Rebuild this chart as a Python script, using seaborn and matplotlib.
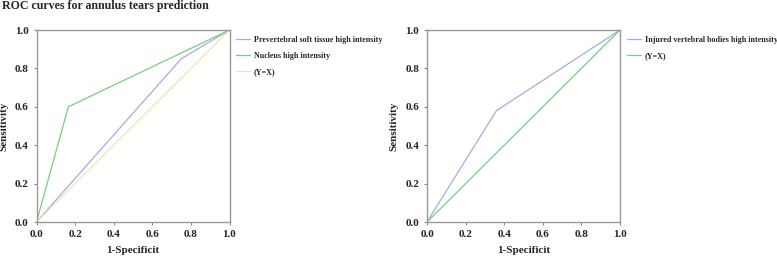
import matplotlib
matplotlib.use("Agg")
import matplotlib.pyplot as plt
import seaborn as sns
import pandas as pd

sns.set_style("white")
plt.rcParams['font.family'] = ['Liberation Serif', 'DejaVu Serif']
plt.rcParams['font.weight'] = 'bold'

# Left panel data
left_fpr_prev = [0.0, 0.75, 1.0]
left_tpr_prev = [0.0, 0.85, 1.0]
left_fpr_nuc = [0.0, 0.165, 1.0]
left_tpr_nuc = [0.0, 0.60, 1.0]
diag_x = [0.0, 1.0]
diag_y = [0.0, 1.0]
# Right panel data
right_fpr_inj = [0.0, 0.36, 1.0]
right_tpr_inj = [0.0, 0.58, 1.0]

ticks = [0.0, 0.2, 0.4, 0.6, 0.8, 1.0]
tick_labels = ["0.0", "0.2", "0.4", "0.6", "0.8", "1.0"]

blue = "#a6acdf"
green = "#74cf84"
yellow = "#ede6b4"

fig = plt.figure(figsize=(7.77, 2.57), dpi=100)
W, H = 777, 257
ax1 = fig.add_axes([36.5 / W, 1 - 222 / H, (229.5 - 36.5) / W, (222 - 30) / H])
ax2 = fig.add_axes([427 / W, 1 - 222 / H, (620 - 427) / W, (222 - 30) / H])

def style(ax):
    ax.set_xlim(0, 1)
    ax.set_ylim(0, 1)
    ax.set_xticks(ticks)
    ax.set_xticklabels(tick_labels)
    ax.set_yticks(ticks)
    ax.set_yticklabels(tick_labels)
    ax.tick_params(axis='both', labelsize=8, length=2.5, width=0.8, color="#888888",
                   direction='out', bottom=True, left=True, pad=3)
    for lab in ax.get_xticklabels() + ax.get_yticklabels():
        lab.set_fontweight('bold')
    for s in ax.spines.values():
        s.set_color("#999999")
        s.set_linewidth(1.0)
    ax.set_xlabel("1-Specificit", fontsize=8, fontweight='bold', labelpad=5)
    ax.set_ylabel("Sensitivity", fontsize=8, fontweight='bold', labelpad=5)

df_l1 = pd.DataFrame({"x": left_fpr_prev, "y": left_tpr_prev})
df_l2 = pd.DataFrame({"x": left_fpr_nuc, "y": left_tpr_nuc})
df_d = pd.DataFrame({"x": diag_x, "y": diag_y})
df_r1 = pd.DataFrame({"x": right_fpr_inj, "y": right_tpr_inj})

sns.lineplot(data=df_l1, x="x", y="y", ax=ax1, color=blue, lw=0.9, sort=False,
             label="Prevertebral soft tissue high intensity")
sns.lineplot(data=df_l2, x="x", y="y", ax=ax1, color=green, lw=0.9, sort=False,
             label="Nucleus high intensity")
sns.lineplot(data=df_d, x="x", y="y", ax=ax1, color=yellow, lw=0.9, sort=False,
             label="(Y=X)")

sns.lineplot(data=df_r1, x="x", y="y", ax=ax2, color=blue, lw=0.9, sort=False,
             label="Injured vertebral bodies high intensity")
sns.lineplot(data=df_d, x="x", y="y", ax=ax2, color=green, lw=0.9, sort=False,
             label="(Y=X)")

style(ax1)
style(ax2)

for ax in (ax1, ax2):
    ax.legend(loc="upper left", bbox_to_anchor=(1 + 6.5 / 193, 1 - 6 / 192),
              frameon=False, prop={'size': 5.8, 'weight': 'bold'},
              handlelength=1.75, labelspacing=1.0, handletextpad=0.5,
              borderaxespad=0, borderpad=0)

fig.text(2 / W, 1 - 6 / H, "ROC curves for annulus tears prediction",
         fontsize=8.6, fontweight='bold', va='center', ha='left')

fig.savefig("out.png", dpi=100)
